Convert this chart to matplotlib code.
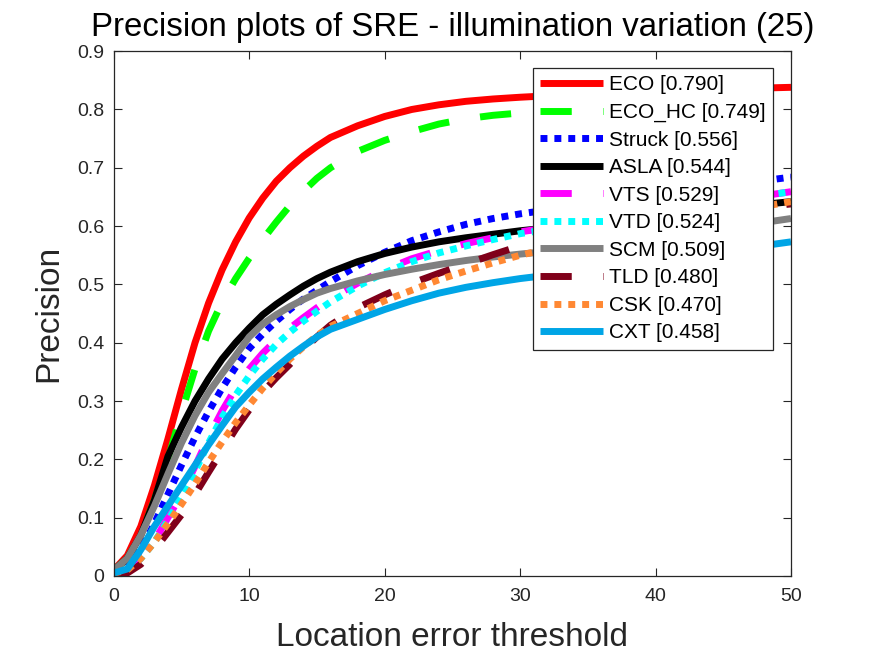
import numpy as np
import matplotlib
matplotlib.use('Agg')
import matplotlib.pyplot as plt

plt.rcParams['font.family'] = ['Liberation Sans', 'DejaVu Sans']

# Data (precision vs. location error threshold)
thresholds = [0, 1, 2, 3, 4, 5, 6, 7, 8, 9, 10, 11, 12, 13, 14, 15, 16,
              18, 20, 22, 24, 26, 28, 30, 35, 40, 45, 50]

eco = [0.01, 0.035, 0.085, 0.155, 0.235, 0.32, 0.40, 0.468, 0.525, 0.573, 0.614, 0.648, 0.677,
       0.70, 0.72, 0.737, 0.752, 0.772, 0.788, 0.80, 0.808, 0.814, 0.818, 0.821, 0.827, 0.831,
       0.835, 0.838]
eco_hc = [0.01, 0.03, 0.07, 0.13, 0.20, 0.28, 0.355, 0.42, 0.47, 0.51, 0.545, 0.577, 0.607,
          0.635, 0.66, 0.682, 0.70, 0.728, 0.747, 0.762, 0.775, 0.784, 0.79, 0.794, 0.80, 0.806,
          0.811, 0.816]
struck = [0.005, 0.015, 0.045, 0.09, 0.14, 0.19, 0.238, 0.282, 0.322, 0.358, 0.39, 0.415, 0.437,
          0.457, 0.475, 0.49, 0.505, 0.532, 0.555, 0.575, 0.59, 0.603, 0.613, 0.621, 0.637, 0.653,
          0.669, 0.684]
asla = [0.01, 0.03, 0.07, 0.13, 0.205, 0.255, 0.30, 0.338, 0.372, 0.40, 0.425, 0.448, 0.466,
        0.482, 0.497, 0.51, 0.521, 0.539, 0.553, 0.564, 0.573, 0.58, 0.586, 0.592, 0.604, 0.617,
        0.63, 0.642]
vts = [0.005, 0.01, 0.03, 0.06, 0.10, 0.14, 0.188, 0.238, 0.283, 0.322, 0.355, 0.382, 0.405,
       0.425, 0.443, 0.46, 0.476, 0.502, 0.525, 0.544, 0.558, 0.57, 0.58, 0.59, 0.608, 0.625,
       0.642, 0.659]
vtd = [0.005, 0.01, 0.03, 0.058, 0.095, 0.135, 0.18, 0.228, 0.272, 0.31, 0.343, 0.372, 0.397,
       0.418, 0.437, 0.454, 0.47, 0.497, 0.52, 0.539, 0.554, 0.566, 0.577, 0.587, 0.605, 0.624,
       0.642, 0.659]
scm = [0.01, 0.03, 0.07, 0.12, 0.175, 0.228, 0.275, 0.315, 0.347, 0.378, 0.41, 0.432, 0.448,
       0.462, 0.474, 0.485, 0.493, 0.506, 0.517, 0.526, 0.534, 0.541, 0.547, 0.552, 0.563, 0.579,
       0.596, 0.613]
tld = [0.0, 0.005, 0.02, 0.045, 0.075, 0.105, 0.14, 0.178, 0.215, 0.252, 0.285, 0.315, 0.34,
       0.363, 0.388, 0.41, 0.43, 0.46, 0.482, 0.502, 0.519, 0.535, 0.551, 0.566, 0.59, 0.61,
       0.626, 0.638]
csk = [0.005, 0.01, 0.03, 0.058, 0.09, 0.123, 0.158, 0.195, 0.23, 0.263, 0.293, 0.322, 0.348,
       0.372, 0.393, 0.412, 0.428, 0.45, 0.472, 0.49, 0.508, 0.523, 0.537, 0.55, 0.577, 0.601,
       0.622, 0.642]
cxt = [0.005, 0.012, 0.045, 0.085, 0.12, 0.155, 0.19, 0.225, 0.258, 0.29, 0.315, 0.338, 0.358,
       0.377, 0.394, 0.41, 0.423, 0.44, 0.457, 0.472, 0.485, 0.495, 0.503, 0.51, 0.524, 0.541,
       0.557, 0.573]

labels = ['ECO [0.790]', 'ECO_HC [0.749]', 'Struck [0.556]', 'ASLA [0.544]', 'VTS [0.529]',
          'VTD [0.524]', 'SCM [0.509]', 'TLD [0.480]', 'CSK [0.470]', 'CXT [0.458]']
series = [eco, eco_hc, struck, asla, vts, vtd, scm, tld, csk, cxt]
colors = ['#ff0000', '#00ff00', '#0000ff', '#000000', '#ff00ff', '#00ffff', '#808080',
          '#80001a', '#ff8833', '#00a5e6']
styles = ['solid', 'dashed', 'dotted', 'solid', 'dashed', 'dotted', 'solid', 'dashed', 'dotted', 'solid']
dash_map = {'dashed': (4.5, 4.5), 'dotted': (1, 1)}

fig = plt.figure(figsize=(8.75, 6.56), dpi=100)
ax = fig.add_axes([0.130, 0.122, 0.774, 0.800])

for y, lab, c, st in zip(series, labels, colors, styles):
    line, = ax.plot(thresholds, y, color=c, lw=5, label=lab, solid_capstyle='butt',
                    dash_capstyle='butt', solid_joinstyle='round')
    if st in dash_map:
        line.set_dashes(dash_map[st])

ax.set_xlim(0, 50)
ax.set_ylim(0, 0.9)
ax.set_xticks(np.arange(0, 51, 10))
ax.set_yticks(np.round(np.arange(0, 0.91, 0.1), 1))
ax.set_yticklabels(['0', '0.1', '0.2', '0.3', '0.4', '0.5', '0.6', '0.7', '0.8', '0.9'])
ax.tick_params(direction='in', top=True, right=True, length=6, labelsize=14,
               color='#262626', labelcolor='#262626')
ax.tick_params(axis='y', pad=7)
ax.tick_params(axis='x', pad=9)
for sp in ax.spines.values():
    sp.set_color('#262626')
    sp.set_linewidth(0.9)

ax.set_title('Precision plots of SRE - illumination variation (25)', fontsize=23.8, pad=11)
ax.set_xlabel('Location error threshold', fontsize=24, color='#262626', labelpad=12)
ax.set_ylabel('Precision', fontsize=24, color='#262626', labelpad=9)

leg = ax.legend(loc='upper right', bbox_to_anchor=(0.973, 0.968), borderaxespad=0,
                fontsize=15, handlelength=3.0, labelspacing=0.41, fancybox=False,
                framealpha=1, edgecolor='#262626', borderpad=0.35, handletextpad=0.3)
leg.get_frame().set_linewidth(0.9)

fig.savefig('out.png', dpi=100)
